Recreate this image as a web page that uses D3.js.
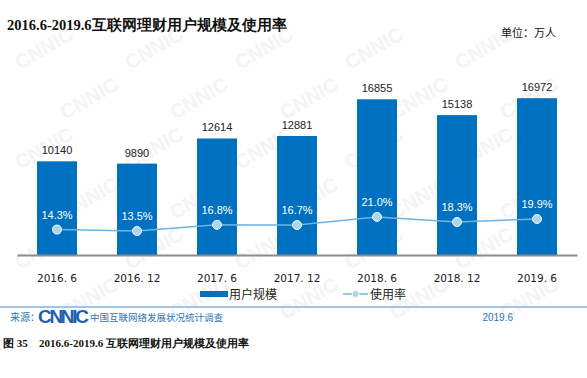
<!DOCTYPE html>
<html>
<head>
<meta charset="utf-8">
<script src="https://cdn.jsdelivr.net/npm/d3@7"></script>
<style>
  body { margin: 0; background: #fff; }
  svg { display: block; }
</style>
</head>
<body>
<div id="chart"></div>
<script>
var periods = ["2016. 6", "2016. 12", "2017. 6", "2017. 12", "2018. 6", "2018. 12", "2019. 6"];
var users = [10140, 9890, 12614, 12881, 16855, 15138, 16972];
var rates = [14.3, 13.5, 16.8, 16.7, 21.0, 18.3, 19.9];

var W = 587, H = 378;
var blue = "#0070c0", light = "#6cb4e4";

var svg = d3.select("#chart").append("svg")
    .attr("width", W).attr("height", H);

// faint watermark, kept inside the picture
var wm = svg.append("g").attr("fill", "#f4f4f4")
    .style("font-family", "Liberation Sans, Arial, sans-serif")
    .style("font-weight", "bold").style("font-size", "20px");
for (var r = 0; r < 6; r++) {
    for (var c = 0; c < 5; c++) {
        wm.append("text")
            .attr("transform", "translate(" + (20 + c * 110 + (r % 2) * 45) + "," + (70 + r * 50) + ") rotate(-30)")
            .text("CNNIC");
    }
}

var x = d3.scaleBand().domain(periods).range([17, 577]).paddingInner(0.5).paddingOuter(0.25);
var y = d3.scaleLinear().domain([0, 27600]).range([255, 0]);
var yr = d3.scaleLinear().domain([0, 136]).range([256.5, 0]);

// title
svg.append("text").attr("x", 7).attr("y", 30)
    .style("font-family", "Liberation Serif, serif").style("font-weight", "bold")
    .style("font-size", "14.5px").attr("fill", "#111")
    .text("2016.6-2019.6互联网理财用户规模及使用率");
svg.append("text").attr("x", 501).attr("y", 37)
    .style("font-family", "Noto Sans CJK SC, sans-serif")
    .style("font-size", "11px").attr("fill", "#111")
    .text("单位：万人");

// bars
svg.selectAll("rect.bar").data(users).enter().append("rect")
    .attr("class", "bar")
    .attr("x", function (d, i) { return x(periods[i]); })
    .attr("y", function (d) { return y(d); })
    .attr("width", x.bandwidth())
    .attr("height", function (d) { return y(0) - y(d); })
    .attr("fill", blue);

svg.selectAll("text.val").data(users).enter().append("text")
    .attr("x", function (d, i) { return x(periods[i]) + x.bandwidth() / 2; })
    .attr("y", function (d) { return y(d) - 7; })
    .attr("text-anchor", "middle")
    .style("font-family", "Liberation Sans, Arial, sans-serif")
    .style("font-size", "11px").attr("fill", "#222")
    .text(function (d) { return d; });

// axis
var axis = svg.append("g").attr("transform", "translate(0,255)")
    .call(d3.axisBottom(x).tickSize(0).tickPadding(20));
axis.select(".domain").attr("stroke", "#8c8c8c").attr("stroke-width", 2);
axis.selectAll("text")
    .style("font-family", "DejaVu Sans, sans-serif")
    .style("font-size", "10.5px").attr("fill", "#1a1a1a");

// line
var line = d3.line()
    .x(function (d, i) { return x(periods[i]) + x.bandwidth() / 2; })
    .y(function (d) { return yr(d); });
svg.append("path").datum(rates).attr("d", line)
    .attr("fill", "none").attr("stroke", light).attr("stroke-width", 1.5);
svg.selectAll("circle.pt").data(rates).enter().append("circle")
    .attr("cx", function (d, i) { return x(periods[i]) + x.bandwidth() / 2; })
    .attr("cy", function (d) { return yr(d); })
    .attr("r", 4.5)
    .attr("fill", "#a8d5f2").attr("stroke", "#fff").attr("stroke-width", 1);
svg.selectAll("text.rate").data(rates).enter().append("text")
    .attr("x", function (d, i) { return x(periods[i]) + x.bandwidth() / 2; })
    .attr("y", function (d) { return yr(d) - 11; })
    .attr("text-anchor", "middle")
    .style("font-family", "Liberation Sans, Arial, sans-serif")
    .style("font-size", "11px").attr("fill", "#fff")
    .text(function (d) { return d.toFixed(1) + "%"; });

// legend
var lg = svg.append("g").style("font-family", "Noto Sans CJK SC, sans-serif")
    .style("font-size", "12px").attr("fill", "#222");
lg.append("rect").attr("x", 200).attr("y", 291).attr("width", 28).attr("height", 6).attr("fill", blue);
lg.append("text").attr("x", 229).attr("y", 298.5).text("用户规模");
lg.append("line").attr("x1", 343).attr("x2", 368).attr("y1", 294).attr("y2", 294)
    .attr("stroke", light).attr("stroke-width", 1.5);
lg.append("circle").attr("cx", 355.5).attr("cy", 294).attr("r", 3.5)
    .attr("fill", "#a8d5f2").attr("stroke", "#fff");
lg.append("text").attr("x", 370).attr("y", 298.5).text("使用率");

// footer
svg.append("line").attr("x1", 0).attr("x2", W).attr("y1", 307).attr("y2", 307)
    .attr("stroke", "#9fc5e8").attr("stroke-width", 2);
svg.append("text").attr("x", 10).attr("y", 321)
    .style("font-family", "Noto Sans CJK SC, sans-serif").style("font-size", "10px")
    .attr("fill", "#2e75b6").text("来源：");
svg.append("text").attr("x", 38).attr("y", 323)
    .style("font-family", "Liberation Sans, Arial, sans-serif").style("font-weight", "bold")
    .style("font-size", "19px").attr("fill", "#1f5fae").attr("textLength", 51)
    .text("CNNIC");
svg.append("text").attr("x", 90).attr("y", 321)
    .style("font-family", "Noto Sans CJK SC, sans-serif").style("font-size", "9.5px")
    .attr("fill", "#2e75b6").text("中国互联网络发展状况统计调查");
svg.append("text").attr("x", 513).attr("y", 321).attr("text-anchor", "end")
    .style("font-family", "Liberation Sans, Arial, sans-serif").style("font-size", "10px")
    .attr("fill", "#2e75b6").text("2019.6");

var cap = svg.append("g").style("font-family", "Liberation Serif, serif")
    .style("font-weight", "bold").style("font-size", "11px").attr("fill", "#111");
cap.append("text").attr("x", 3).attr("y", 347).text("图 35");
cap.append("text").attr("x", 39).attr("y", 347).text("2016.6-2019.6 互联网理财用户规模及使用率");
</script>
</body>
</html>
